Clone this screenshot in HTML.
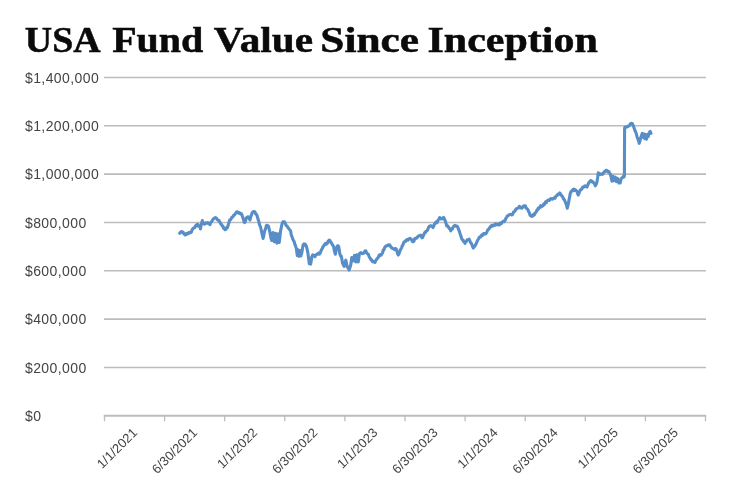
<!DOCTYPE html>
<html><head><meta charset="utf-8"><title>USA Fund Value Since Inception</title>
<style>
html,body{margin:0;padding:0;background:#fff;}
body{width:732px;height:495px;position:relative;overflow:hidden;font-family:"Liberation Sans",sans-serif;}
</style></head><body>
<svg width="732" height="495" viewBox="0 0 732 495" style="position:absolute;left:0;top:0;filter:blur(0.35px)">
<line x1="104" y1="77.45" x2="706" y2="77.45" stroke="#bcbcbc" stroke-width="1.6"/>
<line x1="104" y1="125.79" x2="706" y2="125.79" stroke="#bcbcbc" stroke-width="1.6"/>
<line x1="104" y1="174.13" x2="706" y2="174.13" stroke="#bcbcbc" stroke-width="1.6"/>
<line x1="104" y1="222.47" x2="706" y2="222.47" stroke="#bcbcbc" stroke-width="1.6"/>
<line x1="104" y1="270.81" x2="706" y2="270.81" stroke="#bcbcbc" stroke-width="1.6"/>
<line x1="104" y1="319.15" x2="706" y2="319.15" stroke="#bcbcbc" stroke-width="1.6"/>
<line x1="104" y1="367.49" x2="706" y2="367.49" stroke="#bcbcbc" stroke-width="1.6"/>
<line x1="103.7" y1="415.8" x2="706.2" y2="415.8" stroke="#bcbcbc" stroke-width="2"/>
<line x1="104.5" y1="415.8" x2="104.5" y2="421.3" stroke="#bcbcbc" stroke-width="1.3"/>
<line x1="164.6" y1="415.8" x2="164.6" y2="421.3" stroke="#bcbcbc" stroke-width="1.3"/>
<line x1="224.7" y1="415.8" x2="224.7" y2="421.3" stroke="#bcbcbc" stroke-width="1.3"/>
<line x1="284.8" y1="415.8" x2="284.8" y2="421.3" stroke="#bcbcbc" stroke-width="1.3"/>
<line x1="344.9" y1="415.8" x2="344.9" y2="421.3" stroke="#bcbcbc" stroke-width="1.3"/>
<line x1="405.0" y1="415.8" x2="405.0" y2="421.3" stroke="#bcbcbc" stroke-width="1.3"/>
<line x1="465.1" y1="415.8" x2="465.1" y2="421.3" stroke="#bcbcbc" stroke-width="1.3"/>
<line x1="525.2" y1="415.8" x2="525.2" y2="421.3" stroke="#bcbcbc" stroke-width="1.3"/>
<line x1="585.3" y1="415.8" x2="585.3" y2="421.3" stroke="#bcbcbc" stroke-width="1.3"/>
<line x1="645.4" y1="415.8" x2="645.4" y2="421.3" stroke="#bcbcbc" stroke-width="1.3"/>
<line x1="705.5" y1="415.8" x2="705.5" y2="421.3" stroke="#bcbcbc" stroke-width="1.3"/>
<text x="25" y="82.5" font-family="Liberation Sans, sans-serif" font-size="14" letter-spacing="0.4" fill="#444444">$1,400,000</text>
<text x="25" y="130.8" font-family="Liberation Sans, sans-serif" font-size="14" letter-spacing="0.4" fill="#444444">$1,200,000</text>
<text x="25" y="179.1" font-family="Liberation Sans, sans-serif" font-size="14" letter-spacing="0.4" fill="#444444">$1,000,000</text>
<text x="25" y="227.5" font-family="Liberation Sans, sans-serif" font-size="14" letter-spacing="0.4" fill="#444444">$800,000</text>
<text x="25" y="275.8" font-family="Liberation Sans, sans-serif" font-size="14" letter-spacing="0.4" fill="#444444">$600,000</text>
<text x="25" y="324.2" font-family="Liberation Sans, sans-serif" font-size="14" letter-spacing="0.4" fill="#444444">$400,000</text>
<text x="25" y="372.5" font-family="Liberation Sans, sans-serif" font-size="14" letter-spacing="0.4" fill="#444444">$200,000</text>
<text x="25" y="420.8" font-family="Liberation Sans, sans-serif" font-size="14" letter-spacing="0.4" fill="#444444">$0</text>
<text transform="translate(138.0,433.5) rotate(-45)" text-anchor="end" font-family="Liberation Sans, sans-serif" font-size="13" fill="#444444">1/1/2021</text>
<text transform="translate(198.1,433.5) rotate(-45)" text-anchor="end" font-family="Liberation Sans, sans-serif" font-size="13" fill="#444444">6/30/2021</text>
<text transform="translate(258.2,433.5) rotate(-45)" text-anchor="end" font-family="Liberation Sans, sans-serif" font-size="13" fill="#444444">1/1/2022</text>
<text transform="translate(318.3,433.5) rotate(-45)" text-anchor="end" font-family="Liberation Sans, sans-serif" font-size="13" fill="#444444">6/30/2022</text>
<text transform="translate(378.4,433.5) rotate(-45)" text-anchor="end" font-family="Liberation Sans, sans-serif" font-size="13" fill="#444444">1/1/2023</text>
<text transform="translate(438.5,433.5) rotate(-45)" text-anchor="end" font-family="Liberation Sans, sans-serif" font-size="13" fill="#444444">6/30/2023</text>
<text transform="translate(498.6,433.5) rotate(-45)" text-anchor="end" font-family="Liberation Sans, sans-serif" font-size="13" fill="#444444">1/1/2024</text>
<text transform="translate(558.7,433.5) rotate(-45)" text-anchor="end" font-family="Liberation Sans, sans-serif" font-size="13" fill="#444444">6/30/2024</text>
<text transform="translate(618.8,433.5) rotate(-45)" text-anchor="end" font-family="Liberation Sans, sans-serif" font-size="13" fill="#444444">1/1/2025</text>
<text transform="translate(678.9,433.5) rotate(-45)" text-anchor="end" font-family="Liberation Sans, sans-serif" font-size="13" fill="#444444">6/30/2025</text>
<text x="24.8" y="52.0" font-family="Liberation Serif, serif" font-weight="bold" font-size="35" fill="#0a0a0a" stroke="#0a0a0a" stroke-width="0.5" textLength="75.8" lengthAdjust="spacingAndGlyphs">USA</text>
<text x="112.2" y="52.0" font-family="Liberation Serif, serif" font-weight="bold" font-size="35" fill="#0a0a0a" stroke="#0a0a0a" stroke-width="0.5" textLength="91.1" lengthAdjust="spacingAndGlyphs">Fund</text>
<text x="213.7" y="52.0" font-family="Liberation Serif, serif" font-weight="bold" font-size="35" fill="#0a0a0a" stroke="#0a0a0a" stroke-width="0.5" textLength="99.4" lengthAdjust="spacingAndGlyphs">Value</text>
<text x="320.3" y="52.0" font-family="Liberation Serif, serif" font-weight="bold" font-size="35" fill="#0a0a0a" stroke="#0a0a0a" stroke-width="0.5" textLength="98.7" lengthAdjust="spacingAndGlyphs">Since</text>
<text x="427.5" y="52.0" font-family="Liberation Serif, serif" font-weight="bold" font-size="35" fill="#0a0a0a" stroke="#0a0a0a" stroke-width="0.5" textLength="170.4" lengthAdjust="spacingAndGlyphs">Inception</text>
<path d="M179.7,233.3 L180.5,232.4 L181.2,231.6 L182.0,231.7 L182.6,232.6 L183.2,232.3 L183.8,233.7 L184.4,234.1 L185.0,235.0 L185.7,233.9 L186.3,234.5 L187.0,233.4 L187.6,233.8 L188.3,233.7 L188.9,232.6 L189.6,232.4 L190.2,232.7 L190.8,232.5 L191.4,232.0 L192.1,229.7 L192.7,228.9 L193.3,228.3 L194.0,227.8 L194.7,227.7 L195.3,226.3 L196.0,225.2 L196.7,224.7 L197.3,225.8 L197.9,224.4 L198.6,226.2 L199.2,225.8 L200.3,227.5 L200.4,229.0 L201.0,225.8 L201.7,222.8 L202.3,220.6 L202.5,223.3 L203.1,222.7 L203.8,223.2 L204.4,224.2 L205.0,223.7 L205.6,222.8 L206.2,223.2 L206.9,223.1 L207.5,222.5 L208.1,222.8 L208.8,223.7 L209.4,223.4 L210.0,224.7 L210.6,222.7 L211.2,221.8 L211.9,221.5 L212.5,220.0 L213.2,219.2 L213.9,218.4 L214.6,218.3 L215.3,217.5 L215.9,217.9 L216.5,218.1 L217.1,219.5 L217.7,219.9 L218.3,220.0 L219.0,220.5 L219.7,222.0 L220.3,222.9 L221.0,224.4 L221.7,224.7 L222.4,226.1 L223.0,226.3 L223.7,228.6 L224.3,228.0 L225.0,229.7 L225.6,229.0 L226.2,229.1 L226.9,227.4 L227.5,227.5 L228.3,224.6 L229.2,221.7 L229.8,219.8 L230.4,219.9 L231.1,219.0 L231.7,217.5 L232.3,217.0 L232.9,216.9 L233.6,215.3 L234.2,215.0 L234.8,214.5 L235.4,213.5 L236.1,212.7 L236.7,211.7 L237.3,211.8 L237.9,212.7 L238.6,213.1 L239.2,212.5 L239.9,213.1 L240.6,214.0 L241.3,213.6 L242.0,215.0 L242.7,217.2 L243.3,219.0 L244.0,221.5 L244.7,222.5 L245.4,221.4 L246.0,218.8 L246.7,217.5 L247.5,216.9 L248.3,216.7 L249.2,218.7 L250.0,220.0 L250.7,216.9 L251.3,215.5 L252.0,213.3 L252.7,212.2 L253.5,211.5 L254.2,211.7 L254.9,211.7 L255.6,213.8 L256.3,214.2 L257.0,215.5 L257.6,217.6 L258.3,220.0 L259.0,222.3 L259.8,225.7 L260.5,226.7 L261.2,230.0 L261.8,232.7 L262.5,235.8 L263.1,238.5 L263.8,235.6 L264.5,231.3 L265.1,229.9 L265.8,228.0 L266.4,225.4 L267.1,225.2 L267.7,225.6 L268.4,226.0 L269.0,228.4 L269.7,231.3 L270.4,235.1 L271.0,238.3 L271.7,240.5 L272.4,235.9 L273.0,232.6 L273.6,236.6 L274.3,241.8 L275.0,237.1 L275.6,233.3 L276.2,237.7 L276.9,243.1 L277.6,238.5 L278.3,233.9 L279.2,242.5 L279.9,237.1 L280.5,231.3 L281.4,226.9 L282.2,223.4 L282.9,221.9 L283.5,222.1 L284.2,221.7 L284.9,222.5 L285.5,223.8 L286.2,225.5 L286.8,226.0 L287.5,226.7 L288.1,227.6 L288.8,228.6 L289.4,229.5 L290.0,230.0 L290.7,231.4 L291.3,235.2 L292.0,236.7 L292.7,238.9 L293.5,240.7 L294.2,241.7 L294.9,244.5 L295.6,246.0 L296.3,248.4 L297.3,255.6 L298.2,249.8 L299.0,256.2 L299.9,250.5 L300.8,256.0 L301.9,252.3 L302.5,248.3 L303.2,244.6 L303.9,244.0 L304.5,245.0 L305.1,244.1 L305.8,245.0 L306.5,246.6 L307.2,249.7 L307.9,253.1 L308.5,257.6 L309.3,263.8 L310.0,258.3 L310.7,264.1 L311.8,257.2 L312.5,255.0 L313.1,254.8 L313.8,255.6 L314.4,255.5 L315.0,256.7 L315.6,255.2 L316.2,254.8 L316.9,254.1 L317.5,254.2 L318.1,253.7 L318.8,252.9 L319.4,254.2 L320.0,253.3 L320.7,252.1 L321.3,249.9 L322.0,249.2 L322.7,247.4 L323.5,246.1 L324.2,245.0 L324.8,244.3 L325.4,243.5 L326.1,244.4 L326.7,243.3 L327.3,243.4 L327.9,241.6 L328.6,240.8 L329.2,240.0 L330.0,240.5 L330.8,242.5 L331.5,242.9 L332.2,244.5 L333.0,245.5 L333.7,247.1 L334.5,251.2 L335.4,254.2 L336.2,249.8 L337.0,246.6 L337.9,245.7 L338.7,246.6 L339.8,253.7 L340.6,255.9 L341.4,256.4 L342.5,263.0 L343.3,264.7 L344.1,266.3 L345.0,262.6 L345.8,260.2 L346.6,263.8 L347.4,267.3 L348.2,267.8 L349.0,270.1 L349.9,267.7 L350.7,265.2 L351.8,257.5 L352.5,260.0 L353.2,260.8 L353.9,258.7 L354.5,255.3 L355.1,259.0 L355.8,261.9 L356.9,254.8 L357.6,257.9 L358.3,261.9 L359.4,253.7 L360.1,253.3 L360.7,252.7 L361.4,253.1 L362.0,253.7 L362.7,253.3 L363.3,253.3 L363.9,253.2 L364.6,251.7 L365.2,250.9 L365.8,250.8 L366.4,252.2 L367.1,253.4 L367.7,254.0 L368.3,254.2 L369.0,256.1 L369.6,257.5 L370.3,258.3 L371.0,259.9 L371.8,260.1 L372.5,261.7 L373.1,261.9 L373.8,261.8 L374.4,261.5 L375.0,262.5 L375.6,260.6 L376.2,260.0 L376.9,258.9 L377.5,258.3 L378.4,257.0 L379.2,255.0 L379.8,255.6 L380.4,254.5 L381.1,255.2 L381.7,254.2 L382.5,253.0 L383.3,250.0 L384.0,249.7 L384.6,247.6 L385.3,246.7 L386.0,245.9 L386.8,245.6 L387.5,245.8 L388.2,245.0 L389.0,244.7 L389.7,245.0 L390.4,246.1 L391.0,247.4 L391.7,247.5 L392.3,248.5 L392.9,248.3 L393.6,249.1 L394.2,249.2 L394.9,249.7 L395.6,248.5 L396.3,249.2 L397.0,251.4 L397.6,253.8 L398.3,255.0 L399.0,253.8 L399.6,252.1 L400.3,250.0 L401.0,248.7 L401.7,247.5 L402.3,245.5 L402.9,245.1 L403.6,242.8 L404.2,241.7 L404.8,241.8 L405.4,241.7 L406.1,240.2 L406.7,240.0 L407.3,239.5 L407.9,240.2 L408.6,239.4 L409.2,238.7 L409.8,238.4 L410.4,238.7 L411.1,239.0 L411.7,240.0 L412.5,241.6 L413.3,241.7 L414.0,241.1 L414.6,238.8 L415.3,238.3 L416.0,238.4 L416.8,238.1 L417.5,236.7 L418.1,236.6 L418.8,235.7 L419.4,235.7 L420.0,235.3 L420.6,235.2 L421.2,235.5 L421.9,237.8 L422.5,237.5 L423.2,236.1 L424.0,234.2 L424.7,232.5 L425.4,232.7 L426.0,231.2 L426.7,230.8 L427.3,230.4 L427.9,229.3 L428.6,227.2 L429.2,226.7 L430.0,225.8 L430.8,225.8 L431.5,226.0 L432.3,226.5 L433.0,227.5 L433.7,226.3 L434.3,224.3 L435.0,223.3 L435.6,222.8 L436.2,221.8 L436.9,222.8 L437.5,221.7 L438.2,220.0 L439.0,218.8 L439.7,217.5 L440.4,218.1 L441.0,219.0 L441.7,218.7 L442.4,218.2 L443.0,218.7 L443.7,217.5 L444.5,219.2 L445.3,220.8 L446.0,223.4 L446.7,225.8 L447.4,226.4 L448.0,226.1 L448.7,227.5 L449.4,228.5 L450.1,229.1 L450.8,230.8 L451.5,228.8 L452.3,229.1 L453.0,227.5 L453.7,226.2 L454.3,226.0 L455.0,225.3 L455.6,226.1 L456.2,226.1 L456.9,226.0 L457.5,226.7 L458.4,228.8 L459.2,230.8 L460.0,233.4 L460.8,235.8 L461.6,238.4 L462.5,240.0 L463.1,240.1 L463.8,241.8 L464.4,242.0 L465.0,243.3 L465.7,241.8 L466.3,241.6 L467.0,240.0 L467.7,239.7 L468.5,239.6 L469.2,239.2 L469.9,241.0 L470.6,242.7 L471.3,243.3 L472.0,244.8 L472.6,246.6 L473.3,248.0 L474.1,246.9 L475.0,245.8 L475.7,244.5 L476.3,243.4 L477.0,241.7 L477.7,240.2 L478.5,239.0 L479.2,237.5 L479.8,236.8 L480.4,237.0 L481.1,236.0 L481.7,235.0 L482.3,235.4 L482.9,235.1 L483.6,233.6 L484.2,233.7 L484.8,233.5 L485.4,233.9 L486.1,233.4 L486.7,232.5 L487.4,230.7 L488.0,229.6 L488.7,229.2 L489.4,228.3 L490.1,226.8 L490.8,226.7 L491.4,225.9 L492.1,225.2 L492.7,226.0 L493.3,225.3 L493.9,225.5 L494.6,225.5 L495.2,223.9 L495.8,224.2 L496.4,224.7 L497.1,224.7 L497.7,223.9 L498.3,224.7 L498.9,225.0 L499.6,224.8 L500.2,223.1 L500.8,223.3 L501.4,223.6 L502.1,222.1 L502.7,221.8 L503.3,221.3 L504.0,221.7 L504.6,221.0 L505.3,220.0 L506.0,218.0 L506.8,217.1 L507.5,215.8 L508.2,215.5 L509.0,214.8 L509.7,214.7 L510.5,214.3 L511.2,214.6 L512.0,215.0 L512.7,214.3 L513.5,211.9 L514.2,211.7 L514.9,211.1 L515.5,210.2 L516.2,208.8 L516.8,208.7 L517.5,208.3 L518.1,208.1 L518.8,207.5 L519.4,206.3 L520.0,206.7 L520.6,207.8 L521.2,207.6 L521.9,208.1 L522.5,207.5 L523.2,206.2 L524.0,205.9 L524.7,205.8 L525.4,205.8 L526.0,208.0 L526.7,208.3 L527.4,209.0 L528.0,209.9 L528.7,211.7 L529.4,212.9 L530.1,215.2 L530.8,215.8 L531.5,216.4 L532.3,215.4 L533.0,215.8 L533.7,214.3 L534.3,214.9 L535.0,213.3 L535.6,212.6 L536.2,212.0 L536.9,210.1 L537.5,210.0 L538.1,208.4 L538.8,208.7 L539.4,207.4 L540.0,206.7 L540.6,205.7 L541.2,207.0 L541.9,206.3 L542.5,205.8 L543.1,205.7 L543.8,203.8 L544.4,204.6 L545.0,203.3 L545.6,201.9 L546.2,202.7 L546.9,201.3 L547.5,200.8 L548.1,200.1 L548.8,200.1 L549.4,200.4 L550.0,199.2 L550.6,198.8 L551.2,198.5 L551.9,199.2 L552.5,199.2 L553.1,198.5 L553.8,198.0 L554.4,197.9 L555.0,198.3 L555.6,196.7 L556.2,196.1 L556.9,195.5 L557.5,195.0 L558.2,194.0 L559.0,194.1 L559.7,193.0 L560.4,193.6 L561.0,194.9 L561.7,195.8 L562.4,196.4 L563.0,197.8 L563.7,199.2 L564.4,199.7 L565.1,201.5 L565.8,203.3 L566.5,204.9 L567.2,208.3 L568.0,205.4 L568.7,201.7 L569.5,197.6 L570.3,193.3 L571.0,191.6 L571.8,191.1 L572.5,190.0 L573.1,190.7 L573.8,189.1 L574.4,190.3 L575.0,189.7 L575.7,190.1 L576.3,190.8 L577.0,191.3 L577.6,193.8 L578.3,195.0 L579.0,193.1 L579.6,191.7 L580.3,190.0 L581.0,189.5 L581.8,189.2 L582.5,187.5 L583.1,186.8 L583.8,187.2 L584.4,186.6 L585.0,185.8 L585.7,186.4 L586.3,186.4 L587.0,187.0 L587.7,185.2 L588.5,183.2 L589.2,182.5 L589.9,181.3 L590.6,180.6 L591.3,180.8 L592.0,181.8 L592.6,181.5 L593.3,182.5 L594.0,183.0 L594.6,184.0 L595.3,185.8 L596.1,184.4 L597.0,181.7 L597.6,177.9 L598.3,172.7 L599.0,173.6 L599.6,173.6 L600.3,174.6 L601.0,174.1 L601.8,174.1 L602.5,174.4 L603.2,173.4 L604.0,172.0 L604.7,171.7 L605.4,171.1 L606.0,170.3 L606.7,170.3 L607.4,171.5 L608.0,171.8 L608.7,171.3 L609.5,172.8 L610.3,174.2 L611.0,176.5 L612.0,181.2 L613.1,176.3 L614.2,180.6 L615.3,177.2 L615.9,178.9 L616.5,181.6 L617.1,180.8 L617.7,178.4 L618.9,183.0 L619.5,182.7 L620.2,183.0 L621.3,178.5 L622.0,177.8 L622.6,177.6 L623.4,176.3 L624.0,177.0 L624.4,176.0 L624.6,128.0 L625.0,127.3 L625.5,127.1 L626.2,127.1 L627.0,127.0 L627.7,126.6 L628.5,125.7 L629.2,125.8 L629.8,125.2 L630.5,123.7 L631.1,123.5 L631.7,123.3 L632.5,123.8 L633.3,125.8 L634.1,128.1 L635.0,130.8 L635.7,131.9 L636.3,133.9 L637.0,136.7 L637.7,138.5 L638.5,140.6 L639.2,143.3 L640.0,140.6 L640.8,137.5 L641.5,135.5 L642.2,133.4 L643.0,137.3 L643.8,133.8 L644.8,138.6 L645.6,134.5 L646.5,139.2 L647.4,134.5 L648.3,136.5 L649.2,132.5 L650.2,131.4 L651.0,133.4" fill="none" stroke="#588ec8" stroke-width="3.1" stroke-linejoin="round" stroke-linecap="round"/>
</svg>
</body></html>
